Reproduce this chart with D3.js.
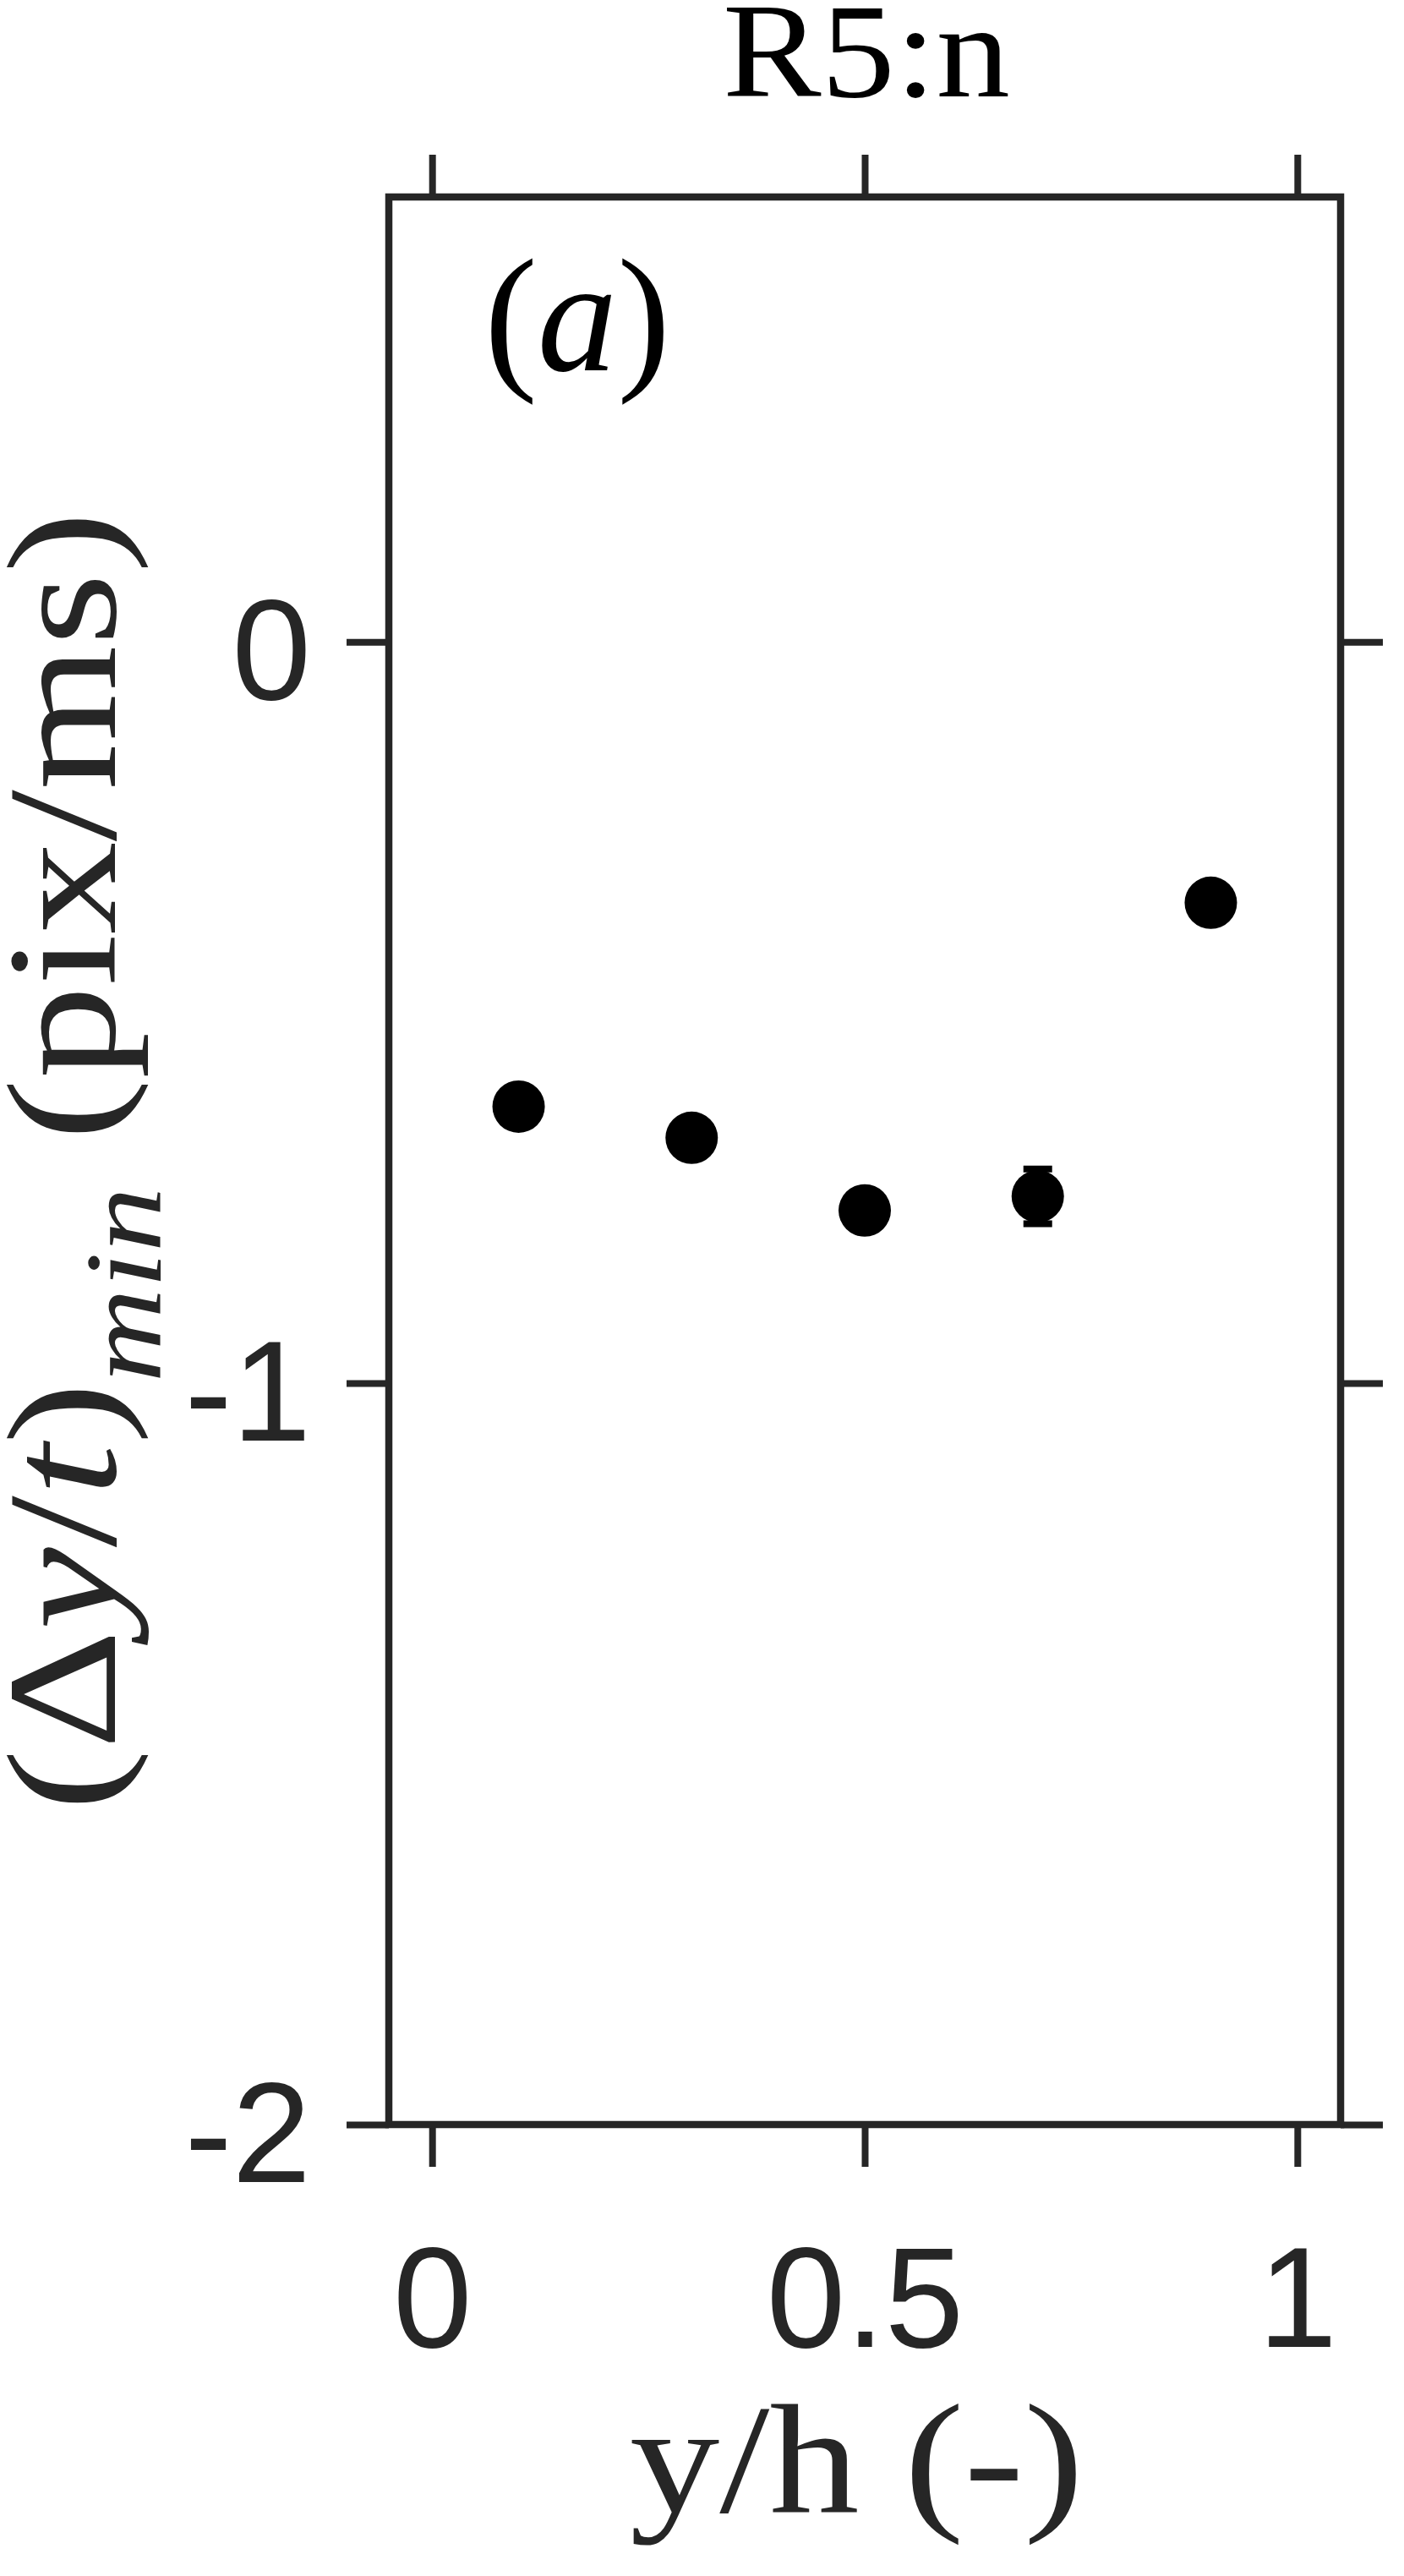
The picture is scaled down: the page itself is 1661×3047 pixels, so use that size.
<!DOCTYPE html>
<html>
<head>
<meta charset="utf-8">
<script src="https://cdn.jsdelivr.net/npm/d3@7"></script>
<style>
  body { margin: 0; background: #fff; }
  svg { display: block; }
  .sans { font-family: "Liberation Sans", Arial, Helvetica, sans-serif; }
  .serif { font-family: "Liberation Serif", "Times New Roman", Times, serif; }
</style>
</head>
<body>
<svg id="chart"></svg>
<script>
"use strict";

// ==========================
// data
// ==========================
var positions = [0.1, 0.3, 0.5, 0.7, 0.9],              // y/h
    minRates = [-0.627, -0.669, -0.767, -0.748, -0.352], // (dy/t)_min, pix/ms
    errors = [0, 0, 0, 0.037, 0];
var xTicks = [0, 0.5, 1],
    yTicks = [0, -1, -2];
var title = "R5:n";

// ==========================
// frame
// ==========================
var width = 1661,
    height = 3047,
    ink = "#262626",
    lw = 8,
    tickLen = 50;

var svg = d3.select("#chart").attr("width", width).attr("height", height);

var x = d3.scaleLinear().domain([-0.05, 1.05]).range([460, 1586]),
    y = d3.scaleLinear().domain([-2, 0.6]).range([2513, 233]);

var plain = function (d) { return String(d); };

function styleAxis(g) {
  g.select(".domain").remove();
  g.attr("font-family", null).attr("class", "sans").attr("font-size", 168);
  g.selectAll(".tick line").attr("stroke", ink).attr("stroke-width", lw);
  g.selectAll(".tick text").attr("fill", ink);
}

// bottom / top
svg.append("g").attr("transform", "translate(0," + y.range()[0] + ")")
  .call(d3.axisBottom(x).tickValues(xTicks).tickSize(tickLen).tickPadding(94).tickFormat(plain))
  .call(styleAxis);
svg.append("g").attr("transform", "translate(0," + y.range()[1] + ")")
  .call(d3.axisTop(x).tickValues(xTicks).tickSize(tickLen).tickFormat(""))
  .call(styleAxis);

// left / right
svg.append("g").attr("transform", "translate(" + x.range()[0] + ",0)")
  .call(d3.axisLeft(y).tickValues(yTicks).tickSize(tickLen).tickPadding(42).tickFormat(plain))
  .call(styleAxis)
  .selectAll(".tick text").attr("dy", "0.4em");
svg.append("g").attr("transform", "translate(" + x.range()[1] + ",0)")
  .call(d3.axisRight(y).tickValues(yTicks).tickSize(tickLen).tickFormat(""))
  .call(styleAxis);

// box
svg.append("rect")
  .attr("x", x.range()[0]).attr("y", y.range()[1])
  .attr("width", x.range()[1] - x.range()[0])
  .attr("height", y.range()[0] - y.range()[1])
  .attr("fill", "none").attr("stroke", ink).attr("stroke-width", lw + 0.5);

// ==========================
// points + error bars
// ==========================
var pts = positions.map(function (p, i) {
  return { x: p, y: minRates[i], e: errors[i] };
});
var withErr = pts.filter(function (d) { return d.e > 0; });
var bars = svg.append("g").attr("stroke", "#000").attr("stroke-width", lw);
bars.selectAll(".stem").data(withErr).enter()
  .append("line").attr("class", "stem")
  .attr("x1", function (d) { return x(d.x); }).attr("x2", function (d) { return x(d.x); })
  .attr("y1", function (d) { return y(d.y + d.e); }).attr("y2", function (d) { return y(d.y - d.e); });
bars.selectAll(".cap").data(withErr.reduce(function (acc, d) {
    return acc.concat([{ x: d.x, y: d.y + d.e }, { x: d.x, y: d.y - d.e }]);
  }, []))
  .enter().append("line").attr("class", "cap")
  .attr("x1", function (d) { return x(d.x) - 17; }).attr("x2", function (d) { return x(d.x) + 17; })
  .attr("y1", function (d) { return y(d.y); }).attr("y2", function (d) { return y(d.y); });

svg.append("g").selectAll("circle").data(pts).enter().append("circle")
  .attr("cx", function (d) { return x(d.x); })
  .attr("cy", function (d) { return y(d.y); })
  .attr("r", 31)
  .attr("fill", "#000");

// ==========================
// text
// ==========================
svg.append("text").attr("class", "serif")
  .attr("x", 855).attr("y", 114)
  .attr("font-size", 158)
  .attr("textLength", 340).attr("lengthAdjust", "spacingAndGlyphs")
  .attr("fill", "#000")
  .text(title);

var tag = svg.append("text").attr("class", "serif")
  .attr("x", 573).attr("y", 438)
  .attr("font-size", 190)
  .attr("textLength", 220).attr("lengthAdjust", "spacingAndGlyphs")
  .attr("fill", "#000");
tag.append("tspan").text("(");
tag.append("tspan").attr("font-style", "italic").text("a");
tag.append("tspan").text(")");

svg.append("text").attr("class", "serif")
  .attr("x", 745).attr("y", 2971)
  .attr("font-size", 185)
  .attr("textLength", 537).attr("lengthAdjust", "spacingAndGlyphs")
  .attr("fill", ink)
  .text("y/h (-)");

var yl = svg.append("text").attr("class", "serif")
  .attr("transform", "translate(136,2142) rotate(-90)")
  .attr("font-size", 185)
  .attr("textLength", 1537).attr("lengthAdjust", "spacingAndGlyphs")
  .attr("fill", ink);
yl.append("tspan").text("(\u0394");
yl.append("tspan").attr("font-style", "italic").text("y");
yl.append("tspan").text("/");
yl.append("tspan").attr("font-style", "italic").text("t");
yl.append("tspan").text(")");
yl.append("tspan").attr("font-style", "italic").attr("font-size", 130).attr("dy", 54).text("min");
yl.append("tspan").attr("dy", -54).text(" (pix/ms)");
</script>
</body>
</html>
